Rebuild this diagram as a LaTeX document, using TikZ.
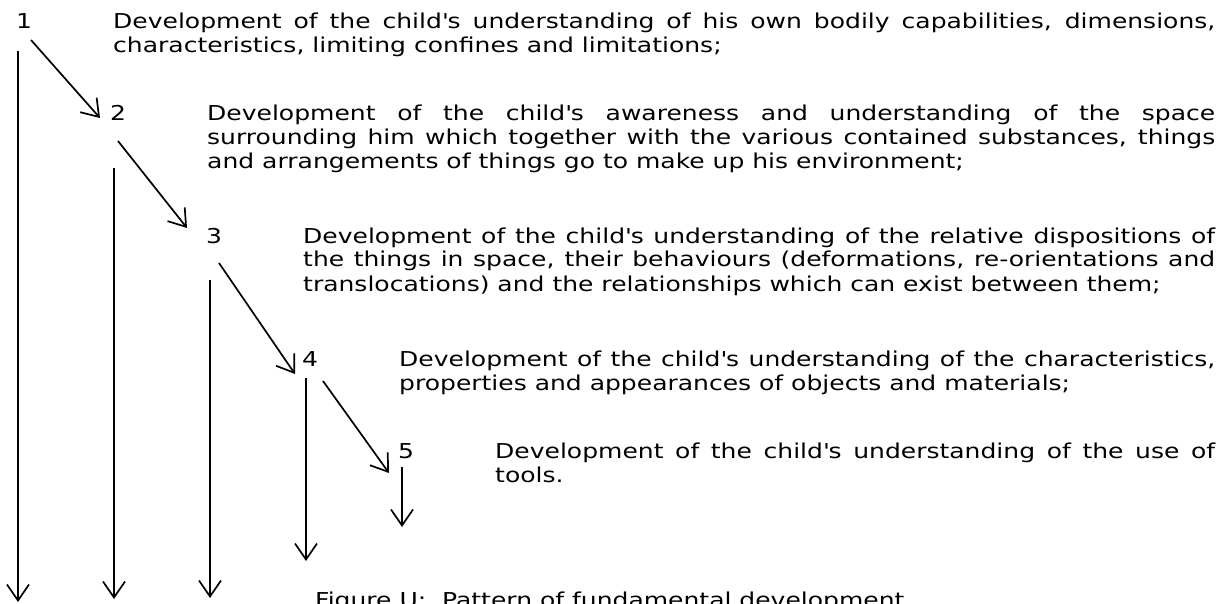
\documentclass[tikz,border=0pt]{standalone}
\usepackage{fontspec}
\setmainfont{DejaVu Sans}[FakeStretch=1.22]
\usetikzlibrary{arrows.meta}
\newcommand\fs{\fontsize{20.5pt}{24pt}\selectfont}
\newcommand\ap{\textquotesingle}
\begin{document}
\begin{tikzpicture}[x=1pt,y=-1pt,
  num/.style={anchor=base west, inner sep=0pt, font=\fs},
  para/.style={anchor=base west, inner sep=0pt, align=justify, font=\fs},
  arr/.style={-{Straight Barb[length=16pt,width=22pt]}, line width=1.7pt}]
\useasboundingbox (0,0) rectangle (1231,604);
\clip (0,0) rectangle (1231,604);
% numbers
\node[num] (n1) at (16,29) {1};
\node[num] (n2) at (110,121) {2};
\node[num] (n3) at (206,243) {3};
\node[num] (n4) at (302,366) {4};
\node[num] (n5) at (398,458) {5};
% paragraphs
\node[para, text width=1102pt] (t1) at (113,29) {Development of the child\ap s understanding of his own bodily capabilities, dimensions,\linebreak characteristics, limiting confines and limitations;};
\node[para, text width=1008pt] (t2) at (207,121) {Development of the child\ap s awareness and understanding of the space\linebreak surrounding him which together with the various contained substances, things\linebreak and arrangements of things go to make up his environment;};
\node[para, text width=912pt] (t3) at (303,243) {Development of the child\ap s understanding of the relative dispositions of\linebreak the things in space, their behaviours (deformations, re-orientations and\linebreak translocations) and the relationships which can exist between them;};
\node[para, text width=816pt] (t4) at (399,366) {Development of the child\ap s understanding of the characteristics,\linebreak properties and appearances of objects and materials;};
\node[para, text width=720pt] (t5) at (495,458) {Development of the child\ap s understanding of the use of\linebreak tools.};
\node[num] (cap) at (315,607) {Figure U:\ \ Pattern of fundamental development};
% connector end points
\coordinate (s12) at (31,40);   \coordinate (e12) at (100,118);
\coordinate (s23) at (118,141); \coordinate (e23) at (187,228);
\coordinate (s34) at (219,263); \coordinate (e34) at (295,374);
\coordinate (s45) at (323,381); \coordinate (e45) at (389,473);
\coordinate (v1s) at (18,51);   \coordinate (v1e) at (18,602);
\coordinate (v2s) at (114,168); \coordinate (v2e) at (114,599);
\coordinate (v3s) at (210,280); \coordinate (v3e) at (210,598);
\coordinate (v4s) at (306,378); \coordinate (v4e) at (306,561);
\coordinate (v5s) at (402,467); \coordinate (v5e) at (402,527);
% connectors
\draw[arr] (s12) -- (e12);
\draw[arr] (s23) -- (e23);
\draw[arr] (s34) -- (e34);
\draw[arr] (s45) -- (e45);
\draw[arr] (v1s) -- (v1e);
\draw[arr] (v2s) -- (v2e);
\draw[arr] (v3s) -- (v3e);
\draw[arr] (v4s) -- (v4e);
\draw[arr] (v5s) -- (v5e);
\end{tikzpicture}
\end{document}
